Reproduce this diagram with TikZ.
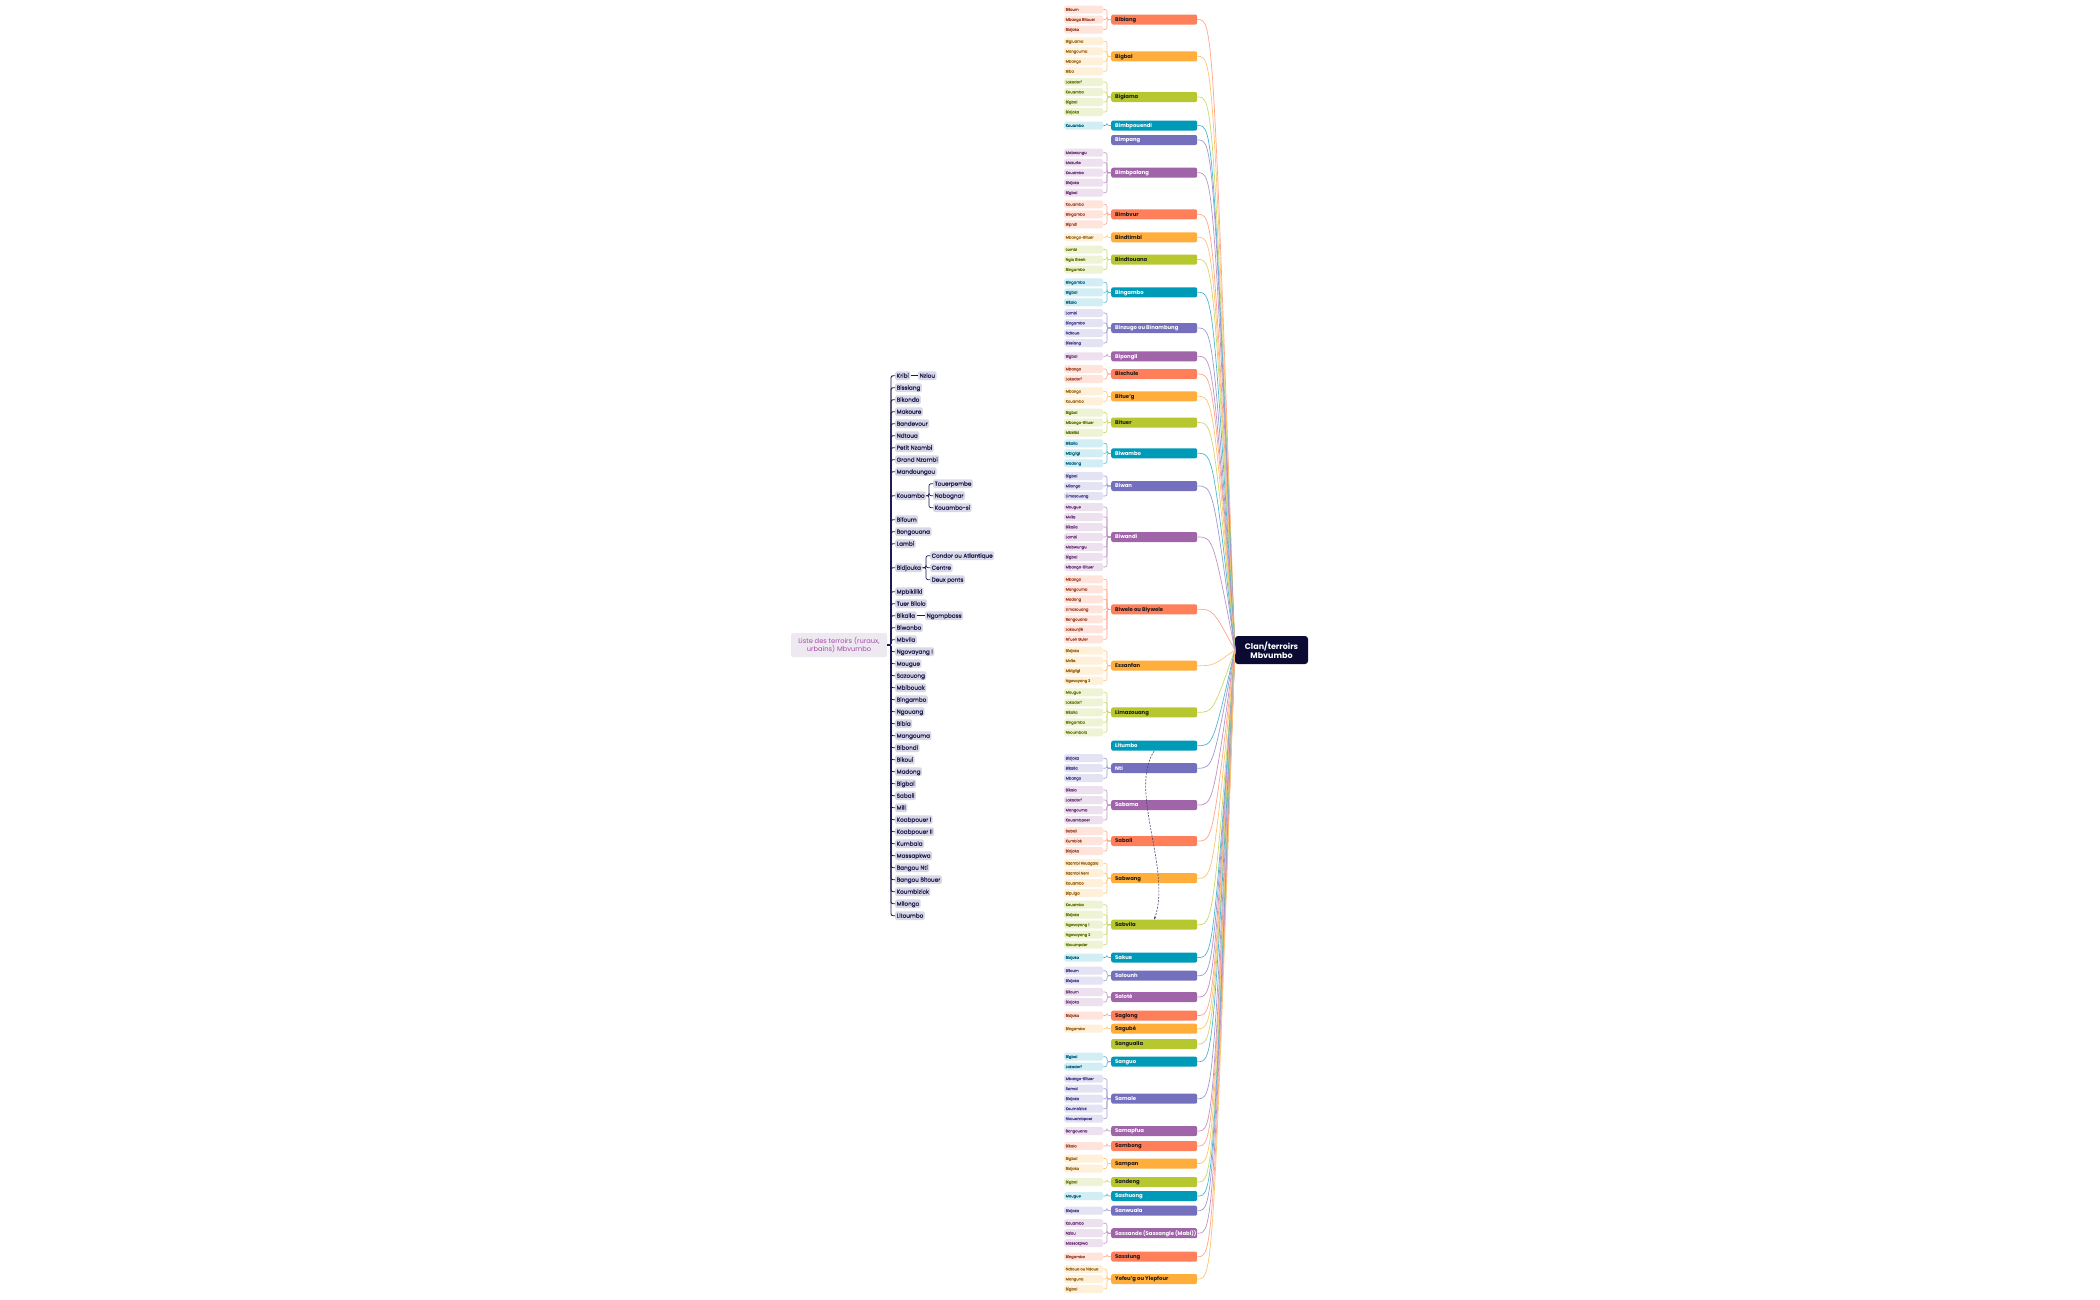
\documentclass[tikz,border=0pt]{standalone}
\usepackage{fontspec}
\setmainfont{Poppins}
\newfontfamily\medfont{Poppins}[FakeBold=0.6]
\usetikzlibrary{arrows.meta}
\definecolor{c1}{HTML}{FF7F5B}\definecolor{c2}{HTML}{FFAD3B}\definecolor{c3}{HTML}{B7C72F}
\definecolor{c4}{HTML}{009AB9}\definecolor{c5}{HTML}{7470BE}\definecolor{c6}{HTML}{A064A9}
\definecolor{l1}{HTML}{FFE4DC}\definecolor{l2}{HTML}{FFF0DA}\definecolor{l3}{HTML}{EFF3D6}
\definecolor{l4}{HTML}{D2EDF4}\definecolor{l5}{HTML}{E4E3F3}\definecolor{l6}{HTML}{EDE0EF}
\definecolor{d1}{HTML}{A04A30}\definecolor{d2}{HTML}{9A6A1A}\definecolor{d3}{HTML}{6A7A12}
\definecolor{d4}{HTML}{0A6A82}\definecolor{d5}{HTML}{4A4690}\definecolor{d6}{HTML}{703E7A}
\definecolor{k1}{HTML}{FFA58A}\definecolor{k2}{HTML}{FFC46E}\definecolor{k3}{HTML}{CCD86A}
\definecolor{k4}{HTML}{4DB8CF}\definecolor{k5}{HTML}{9D9AD2}\definecolor{k6}{HTML}{BE93C4}
\definecolor{x1}{HTML}{1A1A1A}\colorlet{x2}{x1}\colorlet{x3}{x1}
\colorlet{x4}{white}\colorlet{x5}{white}\colorlet{x6}{white}
\definecolor{navy}{HTML}{1C1B4D}\definecolor{hubfill}{HTML}{0B0A33}
\definecolor{terrfill}{HTML}{D8D8E6}\definecolor{rootfill}{HTML}{EEE8F1}\definecolor{roottext}{HTML}{A24CA8}
\tikzset{
  clanbox/.style={anchor=west,rounded corners=2pt,inner xsep=4pt,inner ysep=0pt,minimum height=10pt,
    text height=4.4pt,text depth=0.8pt,font=\bfseries\fontsize{5.3}{5.6}\selectfont},
  leafbox/.style={anchor=west,rounded corners=1.8pt,inner xsep=1.5pt,inner ysep=0pt,minimum height=8pt,
    text height=3pt,text depth=0.4pt,font=\medfont\fontsize{3.7}{4}\selectfont},
  leafline/.style={line width=0.6pt,rounded corners=2pt},
  hubline/.style={line width=0.7pt},
  hubbox/.style={fill=hubfill,text=white,rounded corners=3pt,minimum width=73pt,minimum height=28pt,
    align=center,inner sep=1pt,font=\bfseries\fontsize{8}{9.2}\selectfont},
  terrbox/.style={anchor=west,fill=terrfill,text=navy,rounded corners=1.5pt,inner xsep=1.5pt,inner ysep=0pt,
    minimum height=8.6pt,text height=4.6pt,text depth=0.6pt,font=\medfont\fontsize{5.7}{6}\selectfont},
  spineline/.style={draw=navy,line width=0.9pt,rounded corners=2pt},
  tickline/.style={draw=navy,line width=0.7pt,rounded corners=2pt},
  rootbox/.style={fill=rootfill,text=roottext,rounded corners=2pt,minimum width=96pt,minimum height=24pt,
    align=center,inner sep=1pt,font=\fontsize{6.7}{8.3}\selectfont},
  relline/.style={draw=navy!80,line width=0.6pt,dash pattern=on 2pt off 1.3pt,-{Stealth[length=3pt,width=2.4pt]}}
}
\newcommand\clanbase[4]{%
  \node[clanbox,fill=c#3,text=x#3] (#1) at (1111,#2) {\makebox[78pt][l]{#4}};
  \draw[hubline,draw=k#3] (#1.east) .. controls (1213,#2) .. (hub.west);
}
\newcommand\clanleaves[6]{%
  \clanbase{#1}{#2}{#3}{#4}
  \foreach \lt [count=\k] in {#6}{
    \pgfmathsetmacro\ly{#2+(\k-1)*10-(#5-1)*5}
    \node[leafbox,fill=l#3,text=d#3] (#1-\k) at (1064,\ly) {\makebox[36pt][l]{\lt}};
    \draw[leafline,draw=k#3] (#1-\k.east) -| ([xshift=-4pt]#1.west) -- (#1.west);
  }
}
\newcommand\terr[3]{%
  \node[terrbox] (#1) at (895,375.7+12*#2) {#3};
  \draw[spineline] (root.east) -| ([xshift=-4pt]#1.west) -- (#1.west);
}
\begin{document}
\begin{tikzpicture}[x=1pt,y=-1pt]
\useasboundingbox[fill=white] (0,0) rectangle (2100,1299);
\node[hubbox] (hub) at (1271.5,650) {Clan/terroirs\\Mbvumbo};
\clanleaves{bibiang}{19.5}{1}{Bibiang}{3}{Bifoum,Mbango Bitouer,Bidjoka}
\clanleaves{bigbal}{56.3}{2}{Bigbal}{4}{Bigiuama,Mangouma,Mbango,Biba}
\clanleaves{bigiama}{97}{3}{Bigiama}{4}{Lakadorf,Kouambo,Bigbal,Bidjoka}
\clanleaves{bimbpouendi}{125.5}{4}{Bimbpouendi}{1}{Kouambo}
\clanbase{bimpang}{140}{5}{Bimpang}
\clanleaves{bimbpalang}{172.7}{6}{Bimbpalang}{5}{Mabwungu,Makurte,Kouambo,Bidjoka,Bigbal}
\clanleaves{bimbvur}{214.3}{1}{Bimbvur}{3}{Kouambo,Bingambo,Bipndi}
\clanleaves{bindtimbi}{237.3}{2}{Bindtimbi}{1}{Mbango-Bituer}
\clanleaves{bindtouana}{259.5}{3}{Bindtouana}{3}{Lambi,Ngia Bleeh,Bingambo}
\clanleaves{bingambo}{292.3}{4}{Bingambo}{3}{Bingambo,Bigbal,Bikala}
\clanleaves{binzugo}{328}{5}{Binzugo ou Binambung}{4}{Lambi,Bingambo,Ndtoua,Bissiang}
\clanleaves{bipongli}{356.3}{6}{Bipongli}{1}{Bigbal}
\clanleaves{bischule}{374}{1}{Bischule}{2}{Mbango,Lakadorf}
\clanleaves{bitueg}{396.3}{2}{Bitue'g}{2}{Mbango,Kouambo}
\clanleaves{bituer}{422.5}{3}{Bituer}{3}{Bigbal,Mbango-Bituer,Mbkiliki}
\clanleaves{biwambo}{453.3}{4}{Biwambo}{3}{Bikalia,Mbigligi,Madong}
\clanleaves{biwan}{486}{5}{Biwan}{3}{Bigbal,Milongo,Limazouang}
\clanleaves{biwandi}{537}{6}{Biwandi}{7}{Mougue,Mvila,Bikalia,Lambi,Mabwungu,Bigbal,Mbango-Bituer}
\clanleaves{biwele}{609.3}{1}{Biwele ou Biywele}{7}{Mbango,Mangouma,Madong,Limazouang,Bongouana,Lakounjié,Nf'ueh Guler}
\clanleaves{essanfan}{665.7}{2}{Essanfan}{4}{Bidjoka,Mvila,Mbigligi,Ngovayang 2}
\clanleaves{limazouang}{712.3}{3}{Limazouang}{5}{Mougue,Lakadorf,Bikalia,Bingambo,Nkoumbala}
\clanbase{litumbo}{745.7}{4}{Litumbo}
\clanleaves{nti}{768.2}{5}{Nti}{3}{Bidjoka,Bikalia,Mbango}
\clanleaves{sabama}{805}{6}{Sabama}{4}{Bikala,Lakadorf,Mangouma,Kouambpoer}
\clanleaves{sabali}{841}{1}{Sabali}{3}{Sabali,Kumbiok,Bidjoka}
\clanleaves{sabwang}{878.2}{2}{Sabwang}{4}{Nzambi Nkuagala,Nzambi Nenl,Kouambo,Bipuiga}
\clanleaves{sabvila}{924.7}{3}{Sabvila}{5}{Kouambo,Bidjoka,Ngovayang 1,Ngovayang 2,Nkoumpder}
\clanleaves{sakue}{957.5}{4}{Sakue}{1}{Bidjoka}
\clanleaves{salounh}{975.7}{5}{Salounh}{2}{Bifoum,Bidjoka}
\clanleaves{salote}{997}{6}{Saloté}{2}{Bifoum,Bidjoka}
\clanleaves{saglong}{1015.5}{1}{Saglong}{1}{Bidjoka}
\clanleaves{sagube}{1028.7}{2}{Sagubé}{1}{Bingambo}
\clanbase{sangualia}{1044}{3}{Sangualia}
\clanleaves{sanguo}{1061.7}{4}{Sanguo}{2}{Bigbal,Lakadorf}
\clanleaves{samale}{1098.7}{5}{Samale}{5}{Mbango-Bituer,Samal,Bidjoka,Koumbizick,Nkouambpoer}
\clanleaves{samapfua}{1131}{6}{Samapfua}{1}{Bongouana}
\clanleaves{sambong}{1146}{1}{Sambong}{1}{Bikala}
\clanleaves{sampan}{1163.5}{2}{Sampan}{2}{Bigbal,Bidjoka}
\clanleaves{sandeng}{1182}{3}{Sandeng}{1}{Bigbal}
\clanleaves{sashuong}{1196}{4}{Sashuong}{1}{Mougue}
\clanleaves{sanwuala}{1210.7}{5}{Sanwuala}{1}{Bidjoka}
\clanleaves{sassande}{1233.2}{6}{Sassande (Sassangle (Mabi))}{3}{Kouambo,Nziou,Massakpwa}
\clanleaves{sassiung}{1256.7}{1}{Sassiung}{1}{Bingambo}
\clanleaves{yefeug}{1279}{2}{Yefeu'g ou Yiepfour}{3}{Ndtoua ou Ndoua,Manguna,Bigbal}
\draw[relline] (litumbo.south) .. controls (1128,790) and (1172,870) .. (sabvila.north);
% left list
\node[rootbox] (root) at (839,645) {Liste des terroirs (ruraux,\\urbains) Mbvumbo};
\terr{kribi}{0}{Kribi}
\terr{bissiang}{1}{Bissiang}
\terr{bikondo}{2}{Bikondo}
\terr{makoure}{3}{Makoure}
\terr{bandevour}{4}{Bandevour}
\terr{ndtoua}{5}{Ndtoua}
\terr{petitn}{6}{Petit Nzambi}
\terr{grandn}{7}{Grand Nzambi}
\terr{mandoungou}{8}{Mandoungou}
\terr{kouambo}{10}{Kouambo}
\terr{bifoum}{12}{Bifoum}
\terr{bongouana}{13}{Bongouana}
\terr{lambi}{14}{Lambi}
\terr{bidjouka}{16}{Bidjouka}
\terr{mpbikiliki}{18}{Mpbikiliki}
\terr{tuer}{19}{Tuer Bilolo}
\terr{bikalla}{20}{Bikalla}
\terr{biwanbo}{21}{Biwanbo}
\terr{mbvila}{22}{Mbvila}
\terr{ngovayang}{23}{Ngovayang I}
\terr{mougue}{24}{Mougue}
\terr{sazouong}{25}{Sazouong}
\terr{mbibouak}{26}{Mbibouak}
\terr{lbingambo}{27}{Bingambo}
\terr{ngouang}{28}{Ngouang}
\terr{bibia}{29}{Bibia}
\terr{mangouma}{30}{Mangouma}
\terr{bibondi}{31}{Bibondi}
\terr{bikoui}{32}{Bikoui}
\terr{madong}{33}{Madong}
\terr{lbigbal}{34}{Bigbal}
\terr{lsabali}{35}{Sabali}
\terr{mill}{36}{Mill}
\terr{koabi}{37}{Koabpouer I}
\terr{koabii}{38}{Koabpouer II}
\terr{kumbala}{39}{Kumbala}
\terr{massapkwa}{40}{Massapkwa}
\terr{bangounti}{41}{Bangou Nti}
\terr{bangoubit}{42}{Bangou Bitouer}
\terr{koumbizick}{43}{Koumbizick}
\terr{milongo}{44}{Milongo}
\terr{litoumbo}{45}{Litoumbo}
\node[terrbox] (nziou) at (918,375.7) {Nziou};
\draw[tickline] (kribi.east) -- (nziou.west);
\node[terrbox] (touer) at (933,483.7) {Touerpembe};
\node[terrbox] (nabognar) at (933,495.7) {Nabognar};
\node[terrbox] (kouambosi) at (933,507.7) {Kouambo-si};
\foreach \c in {touer,nabognar,kouambosi}
  \draw[tickline] (kouambo.east) -| ([xshift=-4pt]\c.west) -- (\c.west);
\node[terrbox] (condor) at (930,555.7) {Condor ou Atlantique};
\node[terrbox] (centre) at (930,567.7) {Centre};
\node[terrbox] (deuxponts) at (930,579.7) {Deux ponts};
\foreach \c in {condor,centre,deuxponts}
  \draw[tickline] (bidjouka.east) -| ([xshift=-4pt]\c.west) -- (\c.west);
\node[terrbox] (ngompbass) at (925,615.7) {Ngompbass};
\draw[tickline] (bikalla.east) -- (ngompbass.west);
\end{tikzpicture}
\end{document}
